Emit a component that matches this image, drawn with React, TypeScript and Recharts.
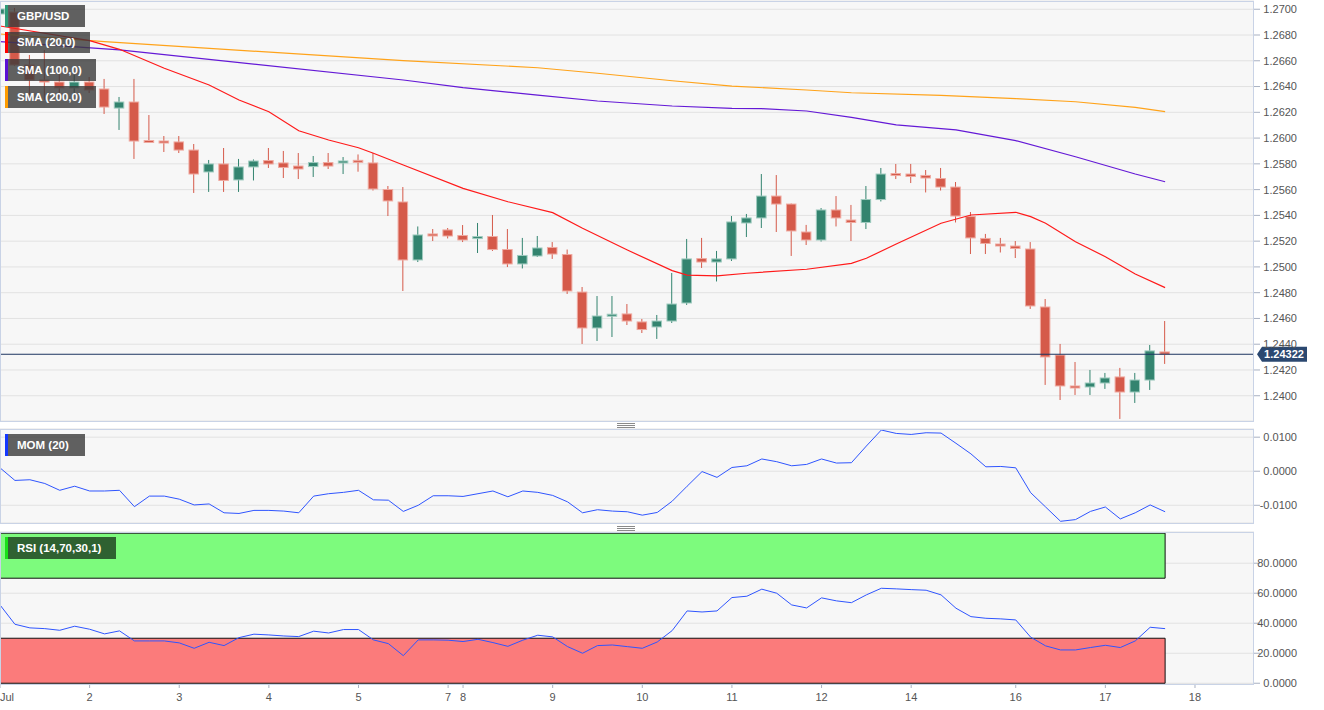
import React from 'react';
import { ComposedChart, Bar, Line, XAxis, YAxis, CartesianGrid, ReferenceLine, ReferenceArea } from 'recharts';

const FONT = '"Liberation Sans", Arial, Helvetica, sans-serif';

// ---- data (4-hour candles, index 0 = Jul 1 first bar) ----
const candleOpen = [
  1.26963, 1.26978, 1.26567, 1.26451, 1.26435, 1.26389, 1.26435, 1.26381, 1.26233, 1.26280,
  1.25977, 1.25973, 1.25970, 1.25907, 1.25737, 1.25799, 1.25675, 1.25776, 1.25826, 1.25807,
  1.25783, 1.25779, 1.25810, 1.25812, 1.25822, 1.25807, 1.25601, 1.25504, 1.25054, 1.25252,
  1.25287, 1.25244, 1.25225, 1.25236, 1.25135, 1.25023, 1.25085, 1.25151, 1.25096, 1.24805,
  1.24526, 1.24623, 1.24635, 1.24573, 1.24534, 1.24580, 1.24720, 1.25065, 1.25038, 1.25062,
  1.25341, 1.25380, 1.25550, 1.25488, 1.25271, 1.25209, 1.25442, 1.25364, 1.25345, 1.25523,
  1.25721, 1.25721, 1.25710, 1.25686, 1.25620, 1.25391, 1.25221, 1.25174, 1.25162, 1.25139,
  1.24689, 1.24316, 1.24072, 1.24068, 1.24099, 1.24146, 1.24029, 1.24122, 1.24340,
];
const candleHigh = [
  1.27025, 1.27010, 1.26645, 1.26684, 1.26505, 1.26490, 1.26474, 1.26459, 1.26319, 1.26459,
  1.26179, 1.26016, 1.26016, 1.25954, 1.25830, 1.25923, 1.25838, 1.25834, 1.25923, 1.25900,
  1.25884, 1.25861, 1.25884, 1.25853, 1.25873, 1.25884, 1.25628, 1.25620, 1.25314, 1.25294,
  1.25302, 1.25325, 1.25341, 1.25403, 1.25294, 1.25225, 1.25240, 1.25193, 1.25135, 1.24844,
  1.24774, 1.24774, 1.24712, 1.24596, 1.24627, 1.24953, 1.25217, 1.25225, 1.25124, 1.25395,
  1.25411, 1.25721, 1.25713, 1.25492, 1.25326, 1.25457, 1.25550, 1.25481, 1.25628, 1.25768,
  1.25799, 1.25799, 1.25752, 1.25768, 1.25659, 1.25426, 1.25256, 1.25225, 1.25201, 1.25193,
  1.24751, 1.24402, 1.24262, 1.24200, 1.24177, 1.24216, 1.24177, 1.24394, 1.24580,
];
const candleLow = [
  1.26940, 1.26559, 1.26334, 1.26296, 1.26319, 1.26350, 1.26350, 1.26187, 1.26063, 1.25838,
  1.25962, 1.25892, 1.25884, 1.25574, 1.25582, 1.25582, 1.25582, 1.25671, 1.25768, 1.25690,
  1.25682, 1.25698, 1.25760, 1.25721, 1.25739, 1.25593, 1.25395, 1.24813, 1.25038, 1.25201,
  1.25221, 1.25193, 1.25108, 1.25124, 1.24999, 1.24988, 1.25077, 1.25062, 1.24790, 1.24402,
  1.24425, 1.24456, 1.24549, 1.24487, 1.24441, 1.24565, 1.24705, 1.24992, 1.24887, 1.25046,
  1.25232, 1.25302, 1.25271, 1.25085, 1.25170, 1.25197, 1.25314, 1.25201, 1.25294, 1.25508,
  1.25682, 1.25651, 1.25578, 1.25593, 1.25345, 1.25100, 1.25100, 1.25112, 1.25069, 1.24674,
  1.24084, 1.23967, 1.24006, 1.24006, 1.24053, 1.23820, 1.23944, 1.24045, 1.24247,
];
const candleClose = [
  1.27002, 1.26567, 1.26451, 1.26435, 1.26389, 1.26435, 1.26373, 1.26241, 1.26280, 1.25977,
  1.25970, 1.25966, 1.25907, 1.25721, 1.25799, 1.25671, 1.25776, 1.25822, 1.25799, 1.25772,
  1.25760, 1.25810, 1.25783, 1.25817, 1.25817, 1.25605, 1.25512, 1.25054, 1.25248, 1.25244,
  1.25240, 1.25209, 1.25230, 1.25135, 1.25023, 1.25089, 1.25147, 1.25100, 1.24813, 1.24526,
  1.24619, 1.24627, 1.24580, 1.24514, 1.24580, 1.24712, 1.25062, 1.25038, 1.25062, 1.25349,
  1.25380, 1.25550, 1.25488, 1.25279, 1.25209, 1.25442, 1.25380, 1.25345, 1.25523, 1.25721,
  1.25713, 1.25702, 1.25690, 1.25620, 1.25395, 1.25225, 1.25182, 1.25166, 1.25143, 1.24697,
  1.24301, 1.24076, 1.24064, 1.24099, 1.24138, 1.24029, 1.24122, 1.24348, 1.24322,
];

const sma20Idx = [0, 6, 8, 11, 14, 16, 18, 20, 22, 24, 25, 27, 31, 34, 37, 39, 42, 45, 46, 48, 50, 54, 57, 58, 60, 63, 65, 68, 69, 70, 72, 74, 76, 78];
const sma20Values = [1.26870, 1.26757, 1.26689, 1.26542, 1.26412, 1.26296, 1.26205, 1.26057, 1.25985, 1.25925, 1.25882, 1.25791, 1.25610, 1.25506, 1.25421, 1.25300, 1.25131, 1.24971, 1.24937, 1.24930, 1.24951, 1.24982, 1.25028, 1.25067, 1.25178, 1.25339, 1.25403, 1.25424, 1.25390, 1.25339, 1.25196, 1.25079, 1.24945, 1.24839];
const sma100Idx = [0, 8, 27, 31, 36, 40, 45, 49, 51, 54, 57, 60, 64, 68, 72, 76, 78];
const sma100Values = [1.26748, 1.26684, 1.26451, 1.26391, 1.26334, 1.26288, 1.26249, 1.26231, 1.26228, 1.26210, 1.26161, 1.26102, 1.26063, 1.25980, 1.25855, 1.25721, 1.25661];
const sma200Idx = [0, 7, 27, 36, 40, 45, 49, 54, 57, 63, 68, 72, 76, 78];
const sma200Values = [1.26808, 1.26748, 1.26601, 1.26546, 1.26503, 1.26445, 1.26404, 1.26373, 1.26352, 1.26332, 1.26306, 1.26282, 1.26239, 1.26205];

const momValues = [
  0.0010, -0.0027, -0.0025, -0.0036, -0.0056, -0.0044, -0.0058, -0.0058, -0.0056, -0.0104,
  -0.0073, -0.0073, -0.0082, -0.0099, -0.0096, -0.0122, -0.0124, -0.0115, -0.0115, -0.0117,
  -0.0122, -0.0073, -0.0066, -0.0062, -0.0056, -0.0084, -0.0085, -0.0118, -0.0100, -0.0072,
  -0.0072, -0.0074, -0.0066, -0.0058, -0.0075, -0.0058, -0.0062, -0.0071, -0.0090, -0.0122,
  -0.0113, -0.0117, -0.0119, -0.0129, -0.0121, -0.0088, -0.0044, -0.0001, -0.0018, 0.0011,
  0.0016, 0.0036, 0.0028, 0.0016, 0.0020, 0.0036, 0.0024, 0.0025, 0.0074, 0.0121,
  0.0111, 0.0108, 0.0113, 0.0112, 0.0082, 0.0051, 0.0013, 0.0014, 0.0010, -0.0063,
  -0.0105, -0.0147, -0.0142, -0.0118, -0.0105, -0.0140, -0.0122, -0.0099, -0.0119,
];
const rsiValues = [
  52.2, 39.3, 36.9, 36.4, 35.3, 38.0, 36.0, 32.9, 34.9, 28.2,
  28.2, 28.2, 26.9, 23.3, 27.3, 25.1, 30.4, 32.7, 32.2, 31.5,
  31.1, 34.7, 33.5, 35.8, 35.8, 28.9, 26.4, 18.4, 28.9, 28.9,
  28.7, 27.8, 29.3, 27.1, 24.6, 28.7, 32.0, 30.9, 24.4, 20.0,
  25.1, 25.5, 24.4, 23.3, 27.5, 35.1, 48.2, 47.5, 48.2, 57.1,
  58.0, 62.7, 60.0, 52.2, 50.2, 56.9, 54.9, 53.7, 58.9, 63.3,
  62.9, 62.4, 62.0, 58.9, 50.0, 44.4, 43.3, 42.9, 42.2, 30.7,
  24.9, 22.2, 22.2, 23.8, 25.3, 23.8, 28.2, 37.3, 36.4,
];

const dateTickIdx = [0, 6, 12, 18, 24, 30, 31, 37, 43, 49, 55, 61, 68, 74, 80];
const dateTickLabels = ['Jul', '2', '3', '4', '5', '7', '8', '9', '10', '11', '12', '14', '16', '17', '18'];
const priceTicks = [1.24, 1.242, 1.244, 1.246, 1.248, 1.25, 1.252, 1.254, 1.256, 1.258, 1.26, 1.262, 1.264, 1.266, 1.268, 1.27];
const momTicks = [-0.01, 0, 0.01];
const rsiTicks = [0, 20, 40, 60, 80];
const LAST_PRICE = 1.24322;

// ---- derived tables ----
const candles = candleOpen.map((o, i) => ({
  i, o, h: candleHigh[i], l: candleLow[i], c: candleClose[i], range: [candleLow[i], candleHigh[i]],
}));
const toSeries = (idx: number[], vals: number[]) => idx.map((i, k) => ({ i, v: vals[k] }));
const sma20 = toSeries(sma20Idx, sma20Values);
const sma100 = toSeries(sma100Idx, sma100Values);
const sma200 = toSeries(sma200Idx, sma200Values);
const momData = momValues.map((v, i) => ({ i, v }));
const rsiData = rsiValues.map((v, i) => ({ i, v }));

const X_MAX = 83.95;
const PLOT_BG = '#f7f7f7';
const GRID = '#e2e2e2';
const BORDER = '#c9d3e6';
const RED = '#d55a4a';
const RED_EDGE = '#efaaa1';
const GREEN = '#33846f';
const GREEN_EDGE = '#9fcbbf';
const IND_BLUE = '#2f55ff';

const CandleShape = (props: any) => {
  const { x, y, width, height, payload } = props;
  if (!payload || x == null) return null;
  const { o, h, l, c } = payload;
  const top = Math.min(y, y + height);
  const bot = Math.max(y, y + height);
  const span = h - l;
  const yOf = (v: number) => (span === 0 ? top : top + ((h - v) / span) * (bot - top));
  const cx = x + width / 2;
  const up = c > o;
  const fill = up ? GREEN : RED;
  const edge = up ? GREEN_EDGE : RED_EDGE;
  let bTop = yOf(Math.max(o, c));
  let bBot = yOf(Math.min(o, c));
  if (bBot - bTop < 2) {
    const m = (bTop + bBot) / 2;
    bTop = m - 1;
    bBot = m + 1;
  }
  return (
    <g>
      <line x1={cx} x2={cx} y1={top} y2={bot} stroke={fill} strokeWidth={1} />
      <rect x={cx - 4.75} y={bTop} width={9.5} height={bBot - bTop} fill={fill} stroke={edge} strokeWidth={1} />
    </g>
  );
};

const ValueTick = (digits: number) => (props: any) => {
  const { x, y, payload } = props;
  return (
    <text x={x + 35} y={y} dy="0.355em" textAnchor="end" fill="#555" fontSize={11} fontFamily={FONT}>
      {Number(payload.value).toFixed(digits)}
    </text>
  );
};

const DateTick = (props: any) => {
  const { x, y, payload } = props;
  const k = dateTickIdx.indexOf(payload.value);
  if (k < 0) return null;
  return (
    <text x={x} y={y} dy="0.71em" textAnchor={k === 0 ? 'start' : 'middle'} fill="#555" fontSize={11} fontFamily={FONT}>
      {dateTickLabels[k]}
    </text>
  );
};

const PriceTag = (props: any) => {
  const vb = props.viewBox;
  if (!vb) return null;
  const x0 = vb.x + vb.width + 3;
  const yc = vb.y;
  return (
    <g>
      <polygon
        points={`${x0},${yc} ${x0 + 5},${yc - 7.5} ${x0 + 50},${yc - 7.5} ${x0 + 50},${yc + 7.5} ${x0 + 5},${yc + 7.5}`}
        fill="#2b4870"
      />
      <text x={x0 + 27} y={yc} dy="0.36em" textAnchor="middle" fill="#fff" fontSize={11} fontWeight="bold" fontFamily={FONT}>
        {LAST_PRICE.toFixed(5)}
      </text>
    </g>
  );
};

const Tag = ({ left, top, width, height, stripe, bg, text }: any) => (
  <div
    style={{
      position: 'absolute', left, top, width, height, background: bg, borderLeft: `3px solid ${stripe}`,
      boxSizing: 'border-box', color: '#fff', fontFamily: FONT, fontWeight: 'bold', fontSize: 11.5,
      lineHeight: `${height}px`, paddingLeft: 9, whiteSpace: 'nowrap', pointerEvents: 'none',
    }}
  >
    {text}
  </div>
);

const Frame = ({ top, height }: any) => (
  <div style={{ position: 'absolute', left: 0, top, width: 1254, height, border: `1px solid ${BORDER}`, boxSizing: 'border-box', pointerEvents: 'none' }} />
);

const Handle = ({ top }: any) => (
  <div style={{ position: 'absolute', left: 617, top, width: 18, height: 5, pointerEvents: 'none' }}>
    {[0, 2, 4].map((d) => (
      <div key={d} style={{ position: 'absolute', left: 0, top: d, width: 18, height: 1, background: '#8a8a8a' }} />
    ))}
  </div>
);

const yAxisCommon = {
  orientation: 'right' as const,
  width: 70,
  axisLine: false,
  tickLine: { stroke: '#a9b1c2' },
  tickSize: 6,
  allowDataOverflow: true,
};

export default function App() {
  return (
    <div style={{ position: 'absolute', left: 0, top: 0, width: 1324, height: 710, background: '#fff', overflow: 'hidden', fontFamily: FONT }}>
      {/* main price panel */}
      <div style={{ position: 'absolute', left: 0, top: 0 }}>
        <ComposedChart width={1324} height={424} data={candles} margin={{ top: 1, right: 0, bottom: 3, left: 0 }}>
          <CartesianGrid vertical={false} stroke={GRID} fill={PLOT_BG} />
          <XAxis type="number" dataKey="i" domain={[0, X_MAX]} hide allowDataOverflow />
          <YAxis {...yAxisCommon} domain={[1.23804, 1.27064]} ticks={priceTicks} tick={ValueTick(4)} />
          <Bar dataKey="range" barSize={10} shape={<CandleShape />} isAnimationActive={false} />
          <Line data={sma200} dataKey="v" type="linear" stroke="#ffa31a" strokeWidth={1.2} dot={false} isAnimationActive={false} />
          <Line data={sma100} dataKey="v" type="linear" stroke="#6419d6" strokeWidth={1.2} dot={false} isAnimationActive={false} />
          <Line data={sma20} dataKey="v" type="linear" stroke="#ff1a1a" strokeWidth={1.2} dot={false} isAnimationActive={false} />
          <ReferenceLine y={LAST_PRICE} stroke="#1d3560" strokeWidth={1} label={<PriceTag />} />
        </ComposedChart>
      </div>

      {/* momentum panel */}
      <div style={{ position: 'absolute', left: 0, top: 425 }}>
        <ComposedChart width={1324} height={100} data={momData} margin={{ top: 4, right: 0, bottom: 2, left: 0 }}>
          <CartesianGrid vertical={false} stroke={GRID} fill={PLOT_BG} />
          <XAxis type="number" dataKey="i" domain={[0, X_MAX]} hide allowDataOverflow />
          <YAxis {...yAxisCommon} domain={[-0.0152, 0.0124]} ticks={momTicks} tick={ValueTick(4)} />
          <Line dataKey="v" type="linear" stroke={IND_BLUE} strokeWidth={1} dot={false} isAnimationActive={false} />
        </ComposedChart>
      </div>

      {/* RSI panel */}
      <div style={{ position: 'absolute', left: 0, top: 528 }}>
        <ComposedChart width={1324} height={182} data={rsiData} margin={{ top: 4, right: 0, bottom: 6, left: 0 }}>
          <CartesianGrid vertical={false} stroke={GRID} fill={PLOT_BG} />
          <XAxis
            type="number" dataKey="i" domain={[0, X_MAX]} ticks={dateTickIdx} interval={0} allowDataOverflow
            height={20} tickSize={4} tickMargin={5} axisLine={false} tickLine={{ stroke: '#a9b1c2' }} tick={<DateTick />}
          />
          <YAxis {...yAxisCommon} domain={[-0.5, 100.8]} ticks={rsiTicks} tick={ValueTick(4)} />
          <ReferenceArea x1={0} x2={78} y1={70} y2={100} fill="#7dfb7d" fillOpacity={1} stroke="#111" strokeWidth={1} />
          <ReferenceArea x1={0} x2={78} y1={0} y2={30} fill="#fb7b7b" fillOpacity={1} stroke="#111" strokeWidth={1} />
          <Line dataKey="v" type="linear" stroke={IND_BLUE} strokeWidth={1} dot={false} isAnimationActive={false} />
        </ComposedChart>
      </div>

      <Frame top={1} height={421} />
      <Frame top={429} height={95} />
      <Frame top={532} height={153} />
      <Handle top={423} />
      <Handle top={526} />

      <Tag left={5} top={5} width={80} height={22} stripe="#2e9a78" bg="rgba(58,58,58,0.8)" text="GBP/USD" />
      <Tag left={5} top={32} width={85} height={21} stripe="#ff0000" bg="rgba(58,58,58,0.8)" text="SMA (20,0)" />
      <Tag left={5} top={59} width={91} height={22} stripe="#5b10d4" bg="rgba(58,58,58,0.8)" text="SMA (100,0)" />
      <Tag left={5} top={86} width={91} height={22} stripe="#ff9c00" bg="rgba(58,58,58,0.8)" text="SMA (200,0)" />
      <Tag left={5} top={434} width={80} height={22} stripe="#1438ff" bg="rgba(58,58,58,0.8)" text="MOM (20)" />
      <Tag left={5} top={537} width={111} height={22} stripe="#19e019" bg="rgba(40,84,42,0.92)" text="RSI (14,70,30,1)" />
    </div>
  );
}
